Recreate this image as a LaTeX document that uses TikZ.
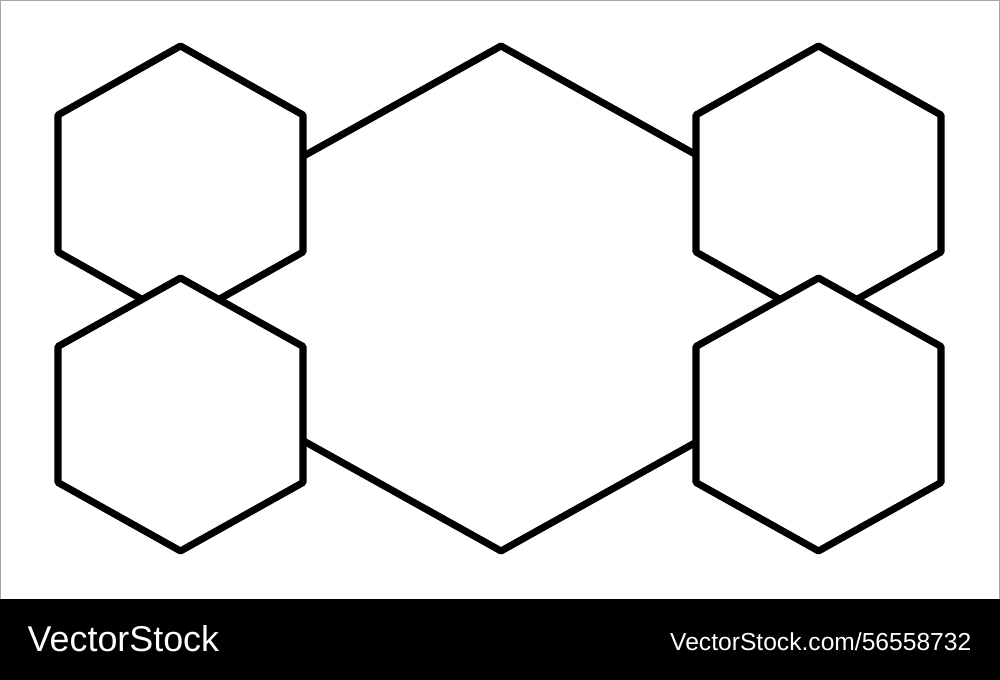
\documentclass[tikz,border=0pt]{standalone}
\usepackage{fontspec}
\setmainfont{Liberation Sans}
\begin{document}
\begin{tikzpicture}[x=0.01cm,y=-0.01cm,
  hexline/.style={draw=black,fill=white,line width=2pt,line join=round},
  edgeline/.style={draw=black,line width=2pt,line join=round},
  wm/.style={text=white,inner sep=0pt,anchor=base west}]
\useasboundingbox (0,0) rectangle (1000,680);
\fill[white] (0,0) rectangle (1000,680);
\draw[gray!70,line width=0.3pt] (0.5,0.5) rectangle (999.5,679.5);
\fill[black] (0,599) rectangle (1000,680);
% large centre hexagon: only its four slanted edges show
\coordinate (ctop) at (501,46);
\coordinate (cbot) at (501,551);
\coordinate (cul) at (275,172);
\coordinate (cur) at (727,172);
\coordinate (cll) at (275,425);
\coordinate (clr) at (727,425);
\path[edgeline] (cul) -- (ctop) -- (cur);
\path[edgeline] (cll) -- (cbot) -- (clr);
% hexagon: center (#1,#2), half width #3, half height #4, vertex offset #5
\newcommand{\myhex}[5]{%
  \path[hexline] (#1,#2-#4) -- (#1+#3,#2-#5) -- (#1+#3,#2+#5) -- (#1,#2+#4) -- (#1-#3,#2+#5) -- (#1-#3,#2-#5) -- cycle;}
\myhex{180.5}{183.5}{122.5}{137.5}{68.5}
\myhex{818.5}{183.5}{122.5}{137.5}{68.5}
\myhex{180.5}{414.5}{122.5}{136.5}{68}
\myhex{818.5}{414.5}{122.5}{136.5}{68}
\node[wm,font=\fontsize{10.2pt}{12pt}\selectfont] (logo) at (27,652) {VectorStock};
\node[wm,font=\fontsize{7.0pt}{9pt}\selectfont,anchor=base east] (url) at (972,651) {VectorStock.com/56558732};
\end{tikzpicture}
\end{document}
